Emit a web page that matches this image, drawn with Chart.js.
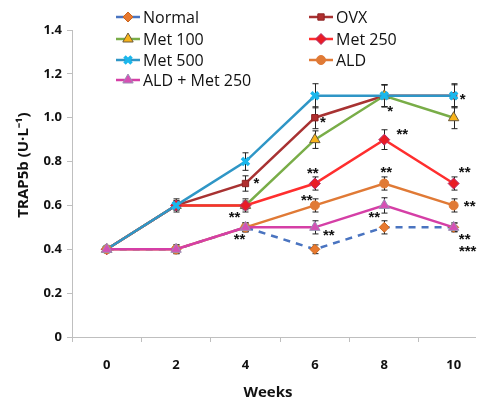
<!DOCTYPE html>
<html>
<head>
<meta charset="utf-8">
<script src="https://cdn.jsdelivr.net/npm/chart.js@4.4.0/dist/chart.umd.min.js"></script>
<style>
body { margin: 0; background: #fff; }
</style>
</head>
<body>
<canvas id="trapChart" width="484" height="403"></canvas>
<script>
// data
var weeks = [0, 2, 4, 6, 8, 10];
var normal = [0.4, 0.4, 0.5, 0.4, 0.5, 0.5];
var ovx = [0.4, 0.6, 0.7, 1.0, 1.1, 1.1];
var met100 = [0.4, 0.6, 0.6, 0.9, 1.1, 1.0];
var met250 = [0.4, 0.6, 0.6, 0.7, 0.9, 0.7];
var met500 = [0.4, 0.6, 0.8, 1.1, 1.1, 1.1];
var ald = [0.4, 0.4, 0.5, 0.6, 0.7, 0.6];
var aldMet250 = [0.4, 0.4, 0.5, 0.5, 0.6, 0.5];

// error bar half widths
var normalErr = [0.01, 0.01, 0.02, 0.02, 0.03, 0.02];
var ovxErr = [0.01, 0.02, 0.035, 0.05, 0.05, 0.05];
var met100Err = [0.01, 0.02, 0.03, 0.04, 0.05, 0.05];
var met250Err = [0.01, 0.02, 0.02, 0.03, 0.045, 0.03];
var met500Err = [0.01, 0.03, 0.04, 0.055, 0.05, 0.055];
var aldErr = [0.01, 0.02, 0.02, 0.03, 0.03, 0.03];
var aldMet250Err = [0.01, 0.02, 0.02, 0.03, 0.035, 0.02];

var yTicks = [0, 0.2, 0.4, 0.6, 0.8, 1, 1.2, 1.4];

// significance marks
var sigWeeks = [10, 8, 6, 8, 6, 8, 10, 4, 6, 10, 4, 8, 4, 6, 10, 10];
var sigValues = [1.1, 1.1, 1.0, 0.9, 0.7, 0.7, 0.7, 0.7, 0.6, 0.6, 0.6, 0.6, 0.5, 0.5, 0.5, 0.5];
var sigLabels = ['*', '*', '*', '**', '**', '**', '**', '*', '**', '**', '**', '**', '**', '**', '**', '***'];
// pixel offsets of each mark from its point
var sigOffsets = [[9, 0], [6, 12], [8, 1], [18, -9], [-2, -14], [2, -15], [11, -15], [11, -4],
                  [-8, -8], [16, -2], [-11, 9], [-10, 9], [-6, 9], [14, 5], [11, 9], [14, 21]];

function pts(vals) {
    return vals.map(function (v, i) { return { x: weeks[i], y: v }; });
}

var series = [
    { label: 'Normal', data: normal, err: normalErr, line: '#4a74c0', fill: '#e8792f', border: '#c9661f', style: 'rectRot', r: 5, dash: [7, 6] },
    { label: 'OVX', data: ovx, err: ovxErr, line: '#a83232', fill: '#b02e2e', border: '#8e2424', style: 'rect', r: 4.5 },
    { label: 'Met 100', data: met100, err: met100Err, line: '#79ad48', fill: '#f8b31a', border: '#6b5a3a', style: 'triangle', r: 6 },
    { label: 'Met 250', data: met250, err: met250Err, line: '#ff2e2e', fill: '#e91c25', border: '#b0306e', style: 'rectRot', r: 5.5 },
    { label: 'Met 500', data: met500, err: met500Err, line: '#2f96c6', fill: '#1ab7ec', border: '#1ab7ec', style: 'crossRot', r: 5, bw: 3.5 },
    { label: 'ALD', data: ald, err: aldErr, line: '#e07a36', fill: '#e07a36', border: '#e07a36', style: 'circle', r: 4.5 },
    { label: 'ALD + Met 250', data: aldMet250, err: aldMet250Err, line: '#d53fa6', fill: '#d650b4', border: '#9a90b4', style: 'triangle', r: 6 }
];

var datasets = series.map(function (s, i) {
    return {
        label: s.label,
        data: pts(s.data),
        borderColor: s.line,
        borderWidth: 2.5,
        borderDash: s.dash || [],
        backgroundColor: s.fill,
        pointStyle: s.style,
        pointRadius: s.r,
        pointBackgroundColor: s.fill,
        pointBorderColor: s.border,
        pointBorderWidth: s.bw || 1,
        tension: 0,
        order: series.length - i
    };
});

var overlay = {
    id: 'overlay',
    beforeDatasetsDraw: function (chart) {
        var ctx = chart.ctx, xs = chart.scales.x, ys = chart.scales.y;
        ctx.save();
        ctx.strokeStyle = '#222';
        ctx.lineWidth = 1;
        series.forEach(function (s) {
            s.data.forEach(function (v, j) {
                var x = Math.round(xs.getPixelForValue(weeks[j])) + 0.5;
                var y1 = ys.getPixelForValue(v + s.err[j]);
                var y2 = ys.getPixelForValue(v - s.err[j]);
                ctx.beginPath();
                ctx.moveTo(x, y1); ctx.lineTo(x, y2);
                ctx.moveTo(x - 3, y1); ctx.lineTo(x + 3, y1);
                ctx.moveTo(x - 3, y2); ctx.lineTo(x + 3, y2);
                ctx.stroke();
            });
        });
        ctx.restore();
    },
    afterDraw: function (chart) {
        var ctx = chart.ctx, xs = chart.scales.x, ys = chart.scales.y;
        ctx.save();

        // asterisks
        ctx.fillStyle = '#111';
        ctx.font = 'bold 15px "Liberation Sans", Arial';
        ctx.textAlign = 'center';
        ctx.textBaseline = 'alphabetic';
        sigLabels.forEach(function (t, k) {
            var x = xs.getPixelForValue(sigWeeks[k]) + sigOffsets[k][0];
            var y = ys.getPixelForValue(sigValues[k]) + sigOffsets[k][1];
            ctx.fillText(t, x, y + 8);
        });

        // axis titles
        ctx.font = 'bold 15px "Open Sans"';
        ctx.textBaseline = 'middle';
        ctx.fillText('Weeks', 268, 393);
        ctx.translate(24, 165);
        ctx.rotate(-Math.PI / 2);
        ctx.fillText('TRAP5b (U\u00b7L\u207b\u00b9)', 0, 0);
        ctx.setTransform(1, 0, 0, 1, 0, 0);

        // legend, two columns
        var colX = [116, 309], rowY = [17, 39, 60, 80];
        ctx.font = '16px "Open Sans"';
        ctx.textAlign = 'left';
        series.forEach(function (s, i) {
            var x = colX[i % 2], y = rowY[Math.floor(i / 2)];
            ctx.strokeStyle = s.line;
            ctx.lineWidth = 2.5;
            ctx.setLineDash([]);
            ctx.beginPath();
            ctx.moveTo(x, y); ctx.lineTo(x + 24, y);
            ctx.stroke();
            ctx.fillStyle = s.fill;
            ctx.strokeStyle = s.border;
            ctx.lineWidth = s.bw || 1;
            Chart.helpers.drawPoint(ctx, { pointStyle: s.style, rotation: 0, radius: s.r, borderWidth: s.bw || 1 }, x + 12, y);
            ctx.fillStyle = '#111';
            ctx.fillText(s.label, x + 27, y + 1);
        });
        ctx.restore();
    }
};

var ctx = document.getElementById('trapChart').getContext('2d');
var trapChart = new Chart(ctx, {
    type: 'line',
    data: { datasets: datasets },
    plugins: [overlay],
    options: {
        responsive: false,
        animation: false,
        devicePixelRatio: 1,
        layout: { padding: { top: 30, left: 0, right: 0, bottom: 0 } },
        plugins: { legend: { display: false }, tooltip: { enabled: false } },
        scales: {
            x: {
                type: 'linear',
                min: -1,
                max: 10.63,
                afterBuildTicks: function (scale) {
                    var t = [];
                    for (var v = -1; v <= 10; v++) t.push({ value: v });
                    scale.ticks = t;
                },
                afterFit: function (scale) { scale.height = 66; },
                ticks: {
                    autoSkip: false,
                    maxRotation: 0,
                    padding: 15,
                    color: '#111',
                    font: { family: '"Open Sans"', size: 13, weight: 'bold' },
                    callback: function (v) { return weeks.indexOf(v) >= 0 ? String(v) : ''; }
                },
                grid: {
                    drawOnChartArea: false,
                    tickLength: 5,
                    tickColor: function (c) { return c.tick && weeks.indexOf(c.tick.value) < 0 ? '#bfbfbf' : 'rgba(0,0,0,0)'; }
                },
                border: { color: '#bfbfbf', width: 1 }
            },
            y: {
                min: 0,
                max: 1.4,
                afterBuildTicks: function (scale) {
                    scale.ticks = yTicks.map(function (v) { return { value: v }; });
                },
                afterFit: function (scale) { scale.width = 72; },
                ticks: {
                    padding: 5,
                    color: '#111',
                    font: { family: '"Open Sans"', size: 13, weight: 'bold' }
                },
                grid: { drawOnChartArea: false, tickLength: 5, tickColor: '#bfbfbf' },
                border: { color: '#bfbfbf', width: 1 }
            }
        }
    }
});
</script>
</body>
</html>
